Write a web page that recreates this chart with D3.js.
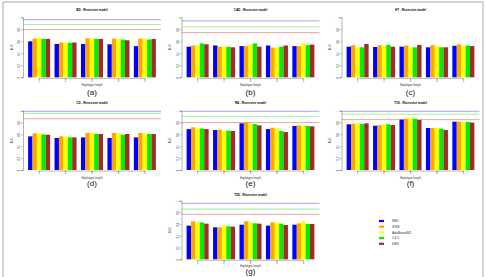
<!DOCTYPE html>
<html><head><meta charset="utf-8">
<script src="https://cdn.jsdelivr.net/npm/d3@7"></script>
<style>body{margin:0;background:#fff}svg{display:block;font-family:"Liberation Sans",Arial,sans-serif}</style>
</head><body>
<svg id="c" width="485" height="277"></svg>
<script>
// ---- data ----
const lengths = ["1","2","3","4","5"];
const methods = ["NBC","SVM","AdaBoostM1","C4.5","kNN"];
const methodColors = ["#0000ff","#ffa500","#ffff00","#00ee00","#a52a2a"];
const yTicks = [0,0.2,0.4,0.6,0.8,1];
const yTickLabels = ["0","0.2","0.4","0.6","0.8","1"];
const panelTitles = ["BD - Recessive model","CAD - Recessive model","HT - Recessive model","CD - Recessive model","RA - Recessive model","T1D - Recessive model","T2D - Recessive model"];
const panelLetters = ["(a)","(b)","(c)","(d)","(e)","(f)","(g)"];
// rows = haplotype length, columns = method
const aucBD = [[0.600,0.645,0.660,0.640,0.640],[0.555,0.580,0.580,0.575,0.580],[0.555,0.650,0.650,0.640,0.640],[0.550,0.645,0.640,0.630,0.617],[0.520,0.645,0.645,0.630,0.640]];
const aucCAD = [[0.510,0.530,0.530,0.565,0.550],[0.530,0.510,0.510,0.510,0.500],[0.520,0.520,0.550,0.565,0.510],[0.530,0.495,0.495,0.510,0.530],[0.520,0.520,0.570,0.535,0.545]];
const aucHT = [[0.510,0.535,0.500,0.500,0.555],[0.505,0.535,0.525,0.540,0.510],[0.510,0.530,0.500,0.500,0.540],[0.500,0.535,0.525,0.500,0.500],[0.525,0.550,0.525,0.530,0.520]];
const aucCD = [[0.567,0.618,0.618,0.600,0.595],[0.540,0.567,0.567,0.550,0.550],[0.550,0.624,0.624,0.607,0.607],[0.540,0.624,0.618,0.595,0.607],[0.550,0.624,0.618,0.607,0.607]];
const aucRA = [[0.690,0.720,0.700,0.700,0.690],[0.674,0.680,0.668,0.663,0.657],[0.787,0.810,0.787,0.775,0.753],[0.690,0.713,0.700,0.657,0.640],[0.742,0.753,0.747,0.742,0.736]];
const aucT1D = [[0.770,0.780,0.790,0.775,0.787],[0.747,0.758,0.770,0.770,0.758],[0.850,0.865,0.876,0.865,0.843],[0.708,0.708,0.708,0.697,0.674],[0.815,0.815,0.810,0.810,0.800]];
const aucT2D = [[0.574,0.648,0.630,0.630,0.608],[0.545,0.545,0.580,0.563,0.557],[0.590,0.648,0.630,0.614,0.608],[0.574,0.630,0.630,0.608,0.585],[0.590,0.614,0.648,0.602,0.602]];
const panelData = [aucBD,aucCAD,aucHT,aucCD,aucRA,aucT1D,aucT2D];
// reference lines (blue, green, red) per panel
const refLines = [[0.96,0.88,0.795],[0.94,0.84,0.745],[],[0.99,0.955,0.865],[0.99,0.905,0.80],[0.99,0.94,0.85],[0.955,0.858,0.767]];
const refColors = ["#3333ee","#33dd33","#ee3333"];

// ---- layout ----
const svg = d3.select("#c");
svg.append("rect").attr("x",3).attr("y",2).attr("width",480).attr("height",280)
  .attr("fill","none").attr("stroke","#999").attr("stroke-width",0.8);

const colX = [23, 181.5, 341.5];
const rows = [{top:17.3,bot:77.3,title:10.8,tick:80.6,xl:86.4,lab:94.5},
              {top:110.7,bot:170,title:104,tick:173.3,xl:179.2,lab:186},
              {top:200.7,bot:259.3,title:195.5,tick:262.5,xl:266.6,lab:274}];
const positions = [[0,0],[1,0],[2,0],[0,1],[1,1],[2,1],[1,2]];
const plotW = 138;

panelData.forEach((data, p) => {
  const [ci, ri] = positions[p];
  const R = rows[ri];
  const x0 = colX[ci];
  const g = svg.append("g");
  // R-style barplot units: bar k in group j spans [1+6j+k, 2+6j+k]
  const x = d3.scaleLinear().domain([-0.16, 31.16]).range([x0, x0 + plotW]);
  const y = d3.scaleLinear().domain([0,1]).range([R.bot, R.top]);

  g.append("text").attr("x", x0 + plotW/2).attr("y", R.title).attr("text-anchor","middle")
    .attr("font-size",3).attr("font-weight","bold").text(panelTitles[p]);

  // y axis
  const ya = d3.axisLeft(y).tickValues(yTicks).tickFormat((d,i)=>yTickLabels[i]).tickSize(1.8).tickPadding(1);
  const yg = g.append("g").attr("transform",`translate(${x0},0)`).call(ya);
  yg.select(".domain").attr("stroke","#444").attr("stroke-width",0.4);
  yg.selectAll(".tick line").attr("stroke","#444").attr("stroke-width",0.4);
  yg.selectAll(".tick text").attr("font-size",2.6).attr("fill","#333")
    .attr("transform", d => `rotate(-90, ${-2.8}, ${y(d)})`)
    .attr("x",-2.8).attr("dy",0).attr("text-anchor","middle")
    .attr("y", d => y(d) - y(d)); // keep positioned by rotation
  yg.selectAll(".tick text").each(function(d){
    d3.select(this).attr("transform", `rotate(-90) translate(0,0)`)
      .attr("x", 0).attr("y", -2.6);
  });
  g.append("text").attr("transform",`translate(${x0-10.5},${(R.top+R.bot)/2}) rotate(-90)`)
    .attr("text-anchor","middle").attr("font-size",2.8).attr("fill","#333").text("AUC");

  // reference lines
  refLines[p].forEach((v,i) => {
    g.append("line").attr("x1",x0).attr("x2",x0+plotW).attr("y1",y(v)).attr("y2",y(v))
      .attr("stroke",refColors[i]).attr("stroke-width",0.6).attr("stroke-opacity",0.75);
  });

  // bars
  data.forEach((vals, j) => {
    vals.forEach((v, k) => {
      const left = 1 + 6*j + k;
      g.append("rect").attr("x", x(left)).attr("width", x(left+1)-x(left))
        .attr("y", y(v)).attr("height", y(0)-y(v)).attr("fill", methodColors[k]);
    });
  });

  // x axis ticks & labels
  const centers = lengths.map((l,j) => x(1 + 6*j + 2.5));
  g.append("line").attr("x1",centers[0]).attr("x2",centers[4]).attr("y1",R.bot+1).attr("y2",R.bot+1)
    .attr("stroke","#444").attr("stroke-width",0.4);
  lengths.forEach((l,j) => {
    g.append("line").attr("x1",centers[j]).attr("x2",centers[j]).attr("y1",R.bot+1).attr("y2",R.bot+2.3)
      .attr("stroke","#444").attr("stroke-width",0.4);
    g.append("text").attr("x",centers[j]).attr("y",R.tick+1).attr("text-anchor","middle")
      .attr("font-size",2.6).attr("fill","#333").text(l);
  });
  g.append("text").attr("x", x0 + plotW/2).attr("y", R.xl).attr("text-anchor","middle")
    .attr("font-size",2.8).attr("fill","#333").text("Haplotype length");
  g.append("text").attr("x", x0 + plotW/2).attr("y", R.lab).attr("text-anchor","middle")
    .attr("font-size",8).attr("fill","#111").text(panelLetters[p]);
});

// legend
const lg = svg.append("g");
methods.forEach((m,i) => {
  const yy = 221 + i*5.7;
  lg.append("rect").attr("x",379).attr("y",yy-1.1).attr("width",5).attr("height",2.2).attr("fill",methodColors[i]);
  lg.append("text").attr("x",392).attr("y",yy+1.2).attr("font-size",3.4).attr("fill","#333").text(m);
});
</script>
</body></html>
